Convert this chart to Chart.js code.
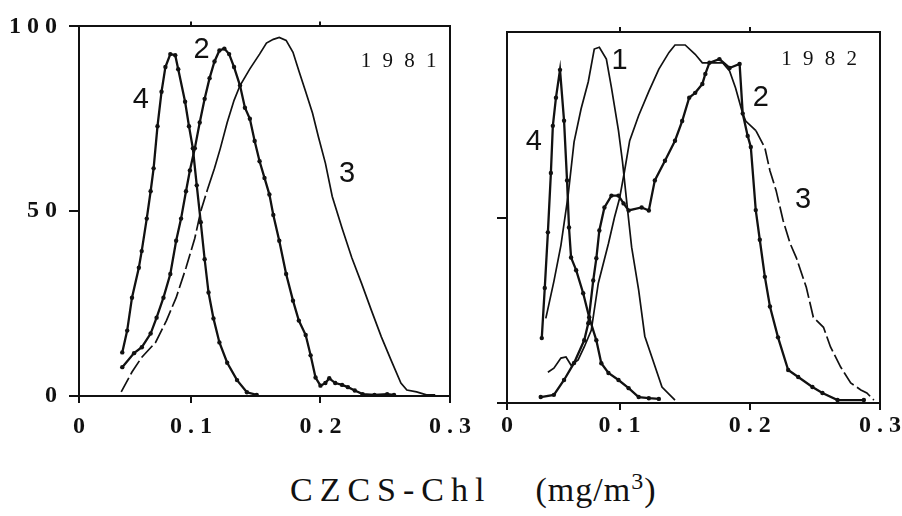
<!DOCTYPE html>
<html>
<head>
<meta charset="utf-8">
<script src="https://cdn.jsdelivr.net/npm/chart.js@4.4.1/dist/chart.umd.min.js"></script>
<style>
  html, body { margin: 0; padding: 0; background: #fff; }
  body { width: 902px; height: 516px; position: relative; overflow: hidden; }
  #wrap81 { position: absolute; left: 0; top: 0; width: 480px; height: 445px; }
  #wrap82 { position: absolute; left: 480px; top: 0; width: 422px; height: 445px; }
  #xTitle { position: absolute; left: 290px; top: 468px; white-space: nowrap;
            font-family: "Liberation Serif", serif; font-size: 34px; color: #111; }
  #xTitle .spaced { letter-spacing: 7px; }
  #xTitle .unit { margin-left: 44px; letter-spacing: 1px; }
  #xTitle sup { font-size: 24px; vertical-align: 12px; }
</style>
</head>
<body>
<div id="wrap81"><canvas id="chart81" width="480" height="445"></canvas></div>
<div id="wrap82"><canvas id="chart82" width="422" height="445"></canvas></div>
<div id="xTitle"><span class="spaced">CZCS-Chl</span><span class="unit">(mg/m<sup>3</sup>)</span></div>

<script>
// axis ticks
const xTicks = [0, 0.1, 0.2, 0.3];
const xTickLabels = ['0', '0 . 1', '0 . 2', '0 . 3'];
const yTicks = [0, 50, 100];
const yTickLabels = ['0', '5 0', '1 0 0'];
const X_MIN = 0.0136;

// 1981 panel, [CZCS-Chl, %]
const c4_1981 = [[0.047,11.8],[0.0508,17.7],[0.0545,26.6],[0.0598,34.7],[0.062,39.2],[0.0659,48],
  [0.0689,55.4],[0.0712,61.6],[0.0742,73],[0.0773,82.3],[0.0803,89],[0.0841,92.5],[0.0879,92.2],
  [0.0902,88.4],[0.0955,79.6],[0.0985,73],[0.1015,67],[0.1045,57],[0.1076,47],[0.1106,37],
  [0.1136,28],[0.1174,21],[0.122,14.5],[0.128,9],[0.1356,4.3],[0.1432,1],[0.1508,0.3]];
const c2_1981 = [[0.047,7.8],[0.0561,11.6],[0.0621,13.2],[0.0689,16.9],[0.0735,21.2],[0.0788,26.6],
  [0.0841,33],[0.0886,42],[0.0924,48],[0.0962,55.4],[0.0992,61],[0.103,67],[0.1068,74],
  [0.1106,80.4],[0.1144,86],[0.1182,90.5],[0.122,93.5],[0.1258,94],[0.1295,92.5],[0.1333,89],
  [0.1379,84],[0.1417,78],[0.1455,75],[0.1492,69],[0.153,63.5],[0.1568,59],[0.1606,54.5],
  [0.1636,49],[0.1682,42],[0.1735,33],[0.1788,25.8],[0.1833,20.4],[0.1886,16.5],[0.1924,11],
  [0.1962,5],[0.2,2.8],[0.2038,3.5],[0.2068,4.8],[0.2114,3.5],[0.2167,3],[0.2212,2.4],
  [0.2265,1.5],[0.2326,0.5],[0.2417,0.3],[0.2515,0.5],[0.2568,0.3]];
const c3_1981 = [[0.0462,1.1],[0.0545,6.5],[0.0621,10.5],[0.0727,14.5],[0.0811,20.4],[0.0886,26.6],
  [0.0962,34.7],[0.103,42.7],[0.1076,50],[0.1129,56],[0.1182,61.6],
  [0.1227,67],[0.128,74],[0.1333,80],[0.1379,84],[0.1455,88.5],[0.153,92.5],[0.1583,95.5],
  [0.1636,96.5],[0.1682,97],[0.1735,96.2],[0.1788,93],[0.1833,88],[0.1886,82.3],[0.1939,76.5],
  [0.1985,70],[0.2038,63],[0.2091,54],[0.2167,45.4],[0.2242,37.4],[0.2318,30.4],[0.2394,23.1],
  [0.247,16],[0.2545,9.7],[0.2621,3.5],[0.2667,1.6],[0.2742,1.1],[0.2818,0.3],[0.2886,0.3]];

// 1982 panel
const c1_1982 = [[0.0434,22.8],[0.0496,32.8],[0.055,42.5],[0.0605,55.9],[0.0651,70.4],[0.0705,79.3],
  [0.076,86.6],[0.0806,95.4],[0.0845,95.9],[0.0899,92.7],[0.0938,85],[0.0992,73.4],[0.1023,65],
  [0.1062,52],[0.1093,42],[0.1147,30.4],[0.1194,18],[0.1248,12.4],[0.1326,4.3],[0.1426,0.8]];
const c4_1982 = [[0.0403,17.5],[0.0426,31],[0.045,46],[0.0473,62],[0.0488,74.7],[0.0512,82.3],
  [0.0543,89.8],[0.0574,76.1],[0.0597,60],[0.0612,47.3],[0.0628,39.2],[0.0667,35.8],[0.0721,29.6],
  [0.0767,23.1],[0.0822,16.9],[0.086,10.7],[0.0915,8.1],[0.0992,6.2],[0.107,4],[0.1147,1.6],
  [0.1225,1.3],[0.1302,1.1]];
const c2_1982 = [[0.0395,1.6],[0.0496,2.2],[0.0574,6.2],[0.0651,10.8],[0.0729,16.9],[0.076,21.5],
  [0.0798,33],[0.0822,39],[0.0845,46.5],[0.0884,52.7],[0.0938,55.9],[0.0992,55.9],[0.1031,53.8],
  [0.107,51.9],[0.117,52.7],[0.1225,51.9],[0.1271,60],[0.1349,65.3],[0.1426,70.7],[0.1481,76],
  [0.1535,82.3],[0.1581,83.6],[0.1636,86],[0.1659,88.7],[0.169,91.7],[0.1767,92.7],[0.1845,90.3],
  [0.1922,91.4],[0.1946,78],[0.1984,72],[0.2008,69],[0.2046,52],[0.2077,44],[0.2116,34],
  [0.2155,26],[0.2217,17.7],[0.2295,8.9],[0.2372,7],[0.2481,4.3],[0.2558,2.7],[0.2674,0.8],
  [0.2876,0.8]];
const c3_1982 = [[0.045,8.3],[0.0496,9.4],[0.055,12.1],[0.0589,12.4],[0.0628,10.2],[0.0682,11.6],
  [0.0729,15.1],[0.0783,19.6],[0.0837,32.3],[0.0915,43],[0.0961,50],[0.1,55.1],[0.1039,62.6],
  [0.1078,70.7],[0.1147,77.5],[0.1225,84],[0.1302,90],[0.138,94.5],[0.1426,96.5],[0.1504,96.5],
  [0.1581,94],[0.1636,91.7],[0.1713,91.7],[0.1791,91.7],[0.1845,89.5],[0.1891,84.9],[0.1946,78],
  [0.1969,76],[0.2047,73.4],[0.2116,68.8],[0.2155,62.6],[0.2202,57.3],[0.2256,49.2],[0.231,43],
  [0.2357,39.2],[0.2434,31.2],[0.2488,23.1],[0.2566,20.4],[0.262,15.1],[0.2698,9.7],[0.2775,5.4],
  [0.2853,3.5],[0.2899,2.7],[0.2953,0.8]];

// in-plot labels, anchored in data units
const notes1981 = [
  { text: '4', x: 0.0614, y: 80 },
  { text: '2', x: 0.1083, y: 93.5 },
  { text: '3', x: 0.2205, y: 60 },
  { text: '1 9 8 1', x: 0.2615, y: 90.6, year: true }
];
const notes1982 = [
  { text: '1', x: 0.1, y: 92.2 },
  { text: '2', x: 0.2085, y: 82.3 },
  { text: '3', x: 0.241, y: 54.6 },
  { text: '4', x: 0.0341, y: 70.4 },
  { text: '1 9 8 2', x: 0.2545, y: 92.7, year: true }
];

const INK = '#111';
const serif = 'Liberation Serif, serif';

const notesPlugin = {
  id: 'notes',
  afterDatasetsDraw(chart, args, opts) {
    const { ctx, scales: { x, y } } = chart;
    ctx.save();
    ctx.fillStyle = INK;
    ctx.textAlign = 'center';
    ctx.textBaseline = 'middle';
    opts.items.forEach(n => {
      ctx.font = n.year ? '21px ' + serif : '29px Liberation Sans, sans-serif';
      if ('letterSpacing' in ctx) ctx.letterSpacing = n.year ? '3px' : '0px';
      ctx.fillText(n.text, x.getPixelForValue(n.x), y.getPixelForValue(n.y));
    });
    if ('letterSpacing' in ctx) ctx.letterSpacing = '0px';
    ctx.restore();
  }
};

// dashFrom/dashTo: x range drawn with long dashes (the scan shows broken strokes there)
function curve(points, dotted, dashFrom, dashTo) {
  const ds = {
    data: points.map(p => ({ x: p[0], y: p[1] })),
    borderColor: INK,
    borderWidth: dotted ? 2.3 : 1.7,
    pointRadius: dotted ? 2.2 : 0,
    pointBackgroundColor: INK,
    pointBorderWidth: 0,
    tension: 0
  };
  if (dashFrom !== undefined) {
    ds.segment = {
      borderDash: c => (c.p0.parsed.x >= dashFrom && c.p1.parsed.x <= dashTo) ? [16, 4] : undefined
    };
  }
  return ds;
}

function makePanel(id, datasets, notes, g) {
  const line = { color: INK, lineWidth: 2, drawOnChartArea: false };
  const border = { display: true, color: INK, width: 2 };
  const fontTick = { family: serif, size: 24, weight: 'bold' };
  return new Chart(document.getElementById(id), {
    type: 'line',
    data: { datasets: datasets },
    options: {
      responsive: false,
      animation: false,
      devicePixelRatio: 1,
      layout: { padding: { top: g.top, right: g.right, left: 0, bottom: 0 } },
      plugins: { legend: { display: false }, tooltip: { enabled: false }, notes: { items: notes } },
      scales: {
        x: {
          type: 'linear', position: 'bottom', min: X_MIN, max: 0.3,
          afterBuildTicks: s => { s.ticks = xTicks.map(v => ({ value: Math.max(v, X_MIN) })); },
          afterFit: s => { s.height = g.xh; },
          ticks: { callback: (v, i) => xTickLabels[i], font: fontTick,
                   color: INK, maxRotation: 0, autoSkip: false, padding: g.xpad },
          grid: Object.assign({ tickLength: 7 }, line),
          border: border
        },
        xTop: {
          type: 'linear', position: 'top', min: X_MIN, max: 0.3,
          afterBuildTicks: s => { s.ticks = xTicks.filter(v => v > 0 && v < 0.3).map(v => ({ value: v })); },
          afterFit: s => { s.height = 0; },
          ticks: { display: false },
          grid: Object.assign({ tickLength: 5 }, line),
          border: border
        },
        y: {
          type: 'linear', position: 'left', min: 0, max: 100,
          afterBuildTicks: s => { s.ticks = yTicks.filter(v => v <= g.yTickMax).map(v => ({ value: v })); },
          afterFit: s => { s.width = g.yw; },
          ticks: { display: g.yLabels, callback: (v, i) => yTickLabels[i],
                   font: fontTick, color: INK, padding: 12 },
          grid: Object.assign({ tickLength: 10 }, line),
          border: border
        },
        yRight: {
          type: 'linear', position: 'right', min: 0, max: 100,
          afterFit: s => { s.width = 0; },
          ticks: { display: false },
          grid: Object.assign({ drawTicks: false }, line),
          border: border
        }
      }
    },
    plugins: [notesPlugin]
  });
}

makePanel('chart81',
  [curve(c4_1981, true), curve(c2_1981, true), curve(c3_1981, false, 0.04, 0.115)],
  notes1981,
  { top: 24, right: 25, yw: 79, xh: 49, xpad: 9, yLabels: true, yTickMax: 100 });

makePanel('chart82',
  [curve(c1_1982, false), curve(c4_1982, true), curve(c2_1982, true),
   curve(c3_1982, false, 0.2, 0.3)],
  notes1982,
  { top: 32, right: 21, yw: 27, xh: 42, xpad: 1, yLabels: false, yTickMax: 50 });
</script>
</body>
</html>
